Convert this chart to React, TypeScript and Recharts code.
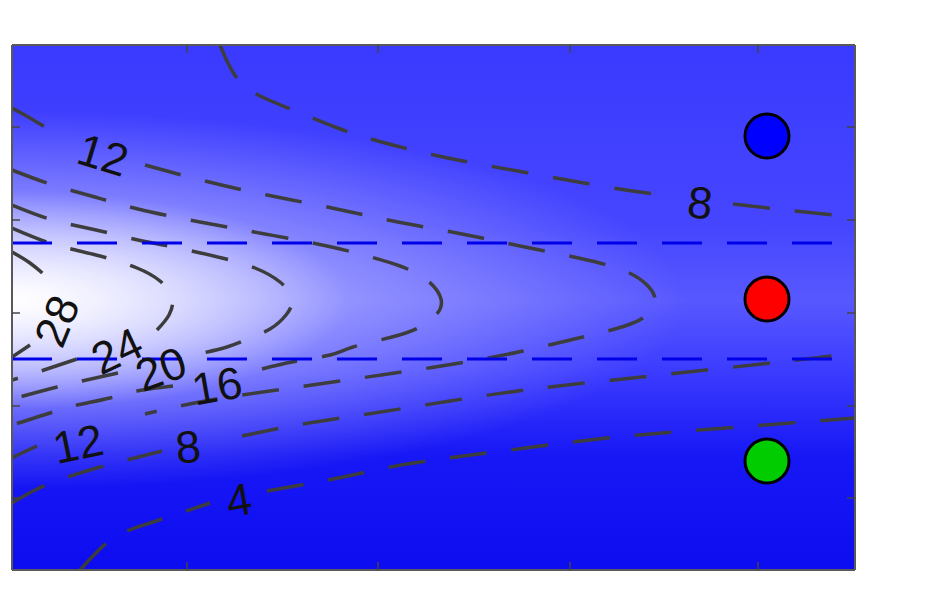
import { ComposedChart, Line, ReferenceArea, ReferenceLine, Scatter, XAxis, YAxis } from "recharts";

// plot coordinates: x to the right, y downwards
const xDomain = [12, 855];
const yDomain = [45, 570];
const xTicks = [187, 378, 570, 758];
const yTicks = [127, 220, 313, 406, 498];

// contour pieces, broken where the level labels sit
const c28a = [[12, 252], [30, 263], [48, 278]];
const c28b = [[30, 345], [12, 357]];
const c24a = [[12, 228], [53, 244], [96, 255], [137, 268], [160, 281], [172, 297], [169, 315], [157, 330]];
const c24b = [[77, 359], [38, 372], [12, 380]];
const c20a = [[12, 205], [53, 220], [96, 230], [138, 240], [178, 248], [222, 258], [255, 268], [280, 282], [292, 299], [286, 315], [270, 329], [248, 339], [227, 347], [203, 353]];
const c20b = [[118, 373], [82, 381], [57, 387], [20, 397], [12, 400]];
const c16a = [[12, 170], [53, 185], [95, 197], [138, 209], [200, 222], [265, 234], [327, 246], [367, 256], [400, 266], [427, 280], [441, 299], [436, 315], [418, 328], [392, 337], [353, 347], [330, 355], [292, 362], [262, 369]];
const c16b = [[173, 386], [137, 391], [110, 398], [73, 406], [50, 413], [12, 425]];
const c12a = [[12, 108], [30, 118], [50, 130]];
const c12b = [[145, 165], [205, 181], [267, 195], [332, 208], [393, 221], [457, 233], [520, 246], [583, 259], [625, 271], [647, 285], [655, 300], [647, 315], [625, 326], [583, 337], [523, 351], [460, 363], [395, 373], [333, 382], [270, 391], [205, 401], [145, 414]];
const c12c = [[37, 446], [22, 453], [12, 458]];
const c8a = [[220, 45], [228, 63], [240, 82], [260, 96], [293, 110], [335, 127], [378, 141], [443, 157], [523, 172], [607, 187], [670, 196]];
const c8b = [[733, 204], [795, 211], [855, 217]];
const c8c = [[12, 503], [37, 489], [62, 479], [100, 467], [162, 451]];
const c8d = [[242, 436], [303, 424], [368, 414], [450, 401], [533, 389], [623, 379], [725, 368], [815, 358], [855, 353]];
const c4a = [[80, 570], [92, 557], [115, 537], [150, 523], [210, 503]];
const c4b = [[267, 491], [343, 477], [407, 464], [495, 452], [598, 439], [688, 431], [790, 423], [855, 418]];

const contours = [c28a, c28b, c24a, c24b, c20a, c20b, c16a, c16b, c12a, c12b, c12c, c8a, c8b, c8c, c8d, c4a, c4b];

const labelText = ["12", "8", "28", "24", "20", "16", "12", "8", "4"];
const labelX = [103, 700, 57, 117, 161, 217, 78, 188, 239];
const labelY = [155, 203, 321, 351, 369, 386, 444, 447, 500];
const labelAngle = [17, 6, -68, -25, -20, -10, -12, -6, -10];

const beamEdges = [243, 359];

const markerX = [767, 767, 767];
const markerY = [136, 299, 461];
const markerColors = ["#0000ff", "#ff0000", "#00cc00"];

const labels = labelText.map((text, i) => ({ x: labelX[i], y: labelY[i], text, angle: labelAngle[i] }));
const markers = markerX.map((x, i) => ({ x, y: markerY[i], color: markerColors[i] }));
const toPts = (arr: number[][]) => arr.map(([x, y]) => ({ x, y }));

const frame = { stroke: "#595959", strokeWidth: 2 };
const tickLn = { stroke: "#444", strokeWidth: 1.5 };
const noText = () => "";

function LevelLabel(props: any) {
  const { cx, cy, payload } = props;
  return (
    <text
      x={cx}
      y={cy}
      transform={`rotate(${payload.angle} ${cx} ${cy})`}
      textAnchor="middle"
      dominantBaseline="central"
      fontSize={45}
      fontFamily="Liberation Sans, Arial, sans-serif"
      fill="#111"
    >
      {payload.text}
    </text>
  );
}

function Marker(props: any) {
  const { cx, cy, payload } = props;
  return <circle cx={cx} cy={cy} r={22} fill={payload.color} stroke="#000" strokeWidth={3} />;
}

export default function App() {
  return (
    <ComposedChart width={917} height={574} margin={{ top: 37, right: 70, bottom: 12, left: 4 }}>
      <defs>
        <linearGradient id="bgBase" x1="0" y1="0" x2="0" y2="1">
          <stop offset="0" stopColor="#3a3aff" />
          <stop offset="0.35" stopColor="#4646ff" />
          <stop offset="0.486" stopColor="#5858ff" />
          <stop offset="0.62" stopColor="#3c3cff" />
          <stop offset="0.78" stopColor="#1818f6" />
          <stop offset="1" stopColor="#0c0cf0" />
        </linearGradient>
        <radialGradient id="glowWide" cx="0" cy="0.486" r="0.8" gradientTransform="translate(0 0.486) scale(1 0.45) translate(0 -0.486)">
          <stop offset="0" stopColor="#fff" stopOpacity={0.75} />
          <stop offset="0.5" stopColor="#fff" stopOpacity={0.35} />
          <stop offset="1" stopColor="#fff" stopOpacity={0} />
        </radialGradient>
        <radialGradient id="glowCore" cx="0" cy="0.486" r="0.4" gradientTransform="translate(0 0.486) scale(1 0.52) translate(0 -0.486)">
          <stop offset="0" stopColor="#fff" stopOpacity={1} />
          <stop offset="0.6" stopColor="#fff" stopOpacity={0.4} />
          <stop offset="1" stopColor="#fff" stopOpacity={0} />
        </radialGradient>
      </defs>
      <XAxis xAxisId="b" dataKey="x" type="number" domain={xDomain} allowDataOverflow ticks={xTicks} interval={0}
        orientation="bottom" mirror tickFormatter={noText} tickSize={8} axisLine={frame} tickLine={tickLn} />
      <XAxis xAxisId="t" dataKey="x" type="number" domain={xDomain} allowDataOverflow ticks={xTicks} interval={0}
        orientation="top" mirror tickFormatter={noText} tickSize={8} axisLine={frame} tickLine={tickLn} />
      <YAxis yAxisId="l" dataKey="y" type="number" domain={yDomain} allowDataOverflow reversed ticks={yTicks} interval={0}
        orientation="left" mirror tickFormatter={noText} tickSize={8} axisLine={frame} tickLine={tickLn} />
      <YAxis yAxisId="r" dataKey="y" type="number" domain={yDomain} allowDataOverflow reversed ticks={yTicks} interval={0}
        orientation="right" mirror tickFormatter={noText} tickSize={8} axisLine={frame} tickLine={tickLn} />

      <ReferenceArea xAxisId="b" yAxisId="l" x1={xDomain[0]} x2={xDomain[1]} y1={yDomain[0]} y2={yDomain[1]} fill="url(#bgBase)" fillOpacity={1} stroke="none" />
      <ReferenceArea xAxisId="b" yAxisId="l" x1={xDomain[0]} x2={xDomain[1]} y1={yDomain[0]} y2={yDomain[1]} fill="url(#glowWide)" fillOpacity={1} stroke="none" />
      <ReferenceArea xAxisId="b" yAxisId="l" x1={xDomain[0]} x2={xDomain[1]} y1={yDomain[0]} y2={yDomain[1]} fill="url(#glowCore)" fillOpacity={1} stroke="none" />

      {contours.map((c, i) => (
        <Line key={i} xAxisId="b" yAxisId="l" data={toPts(c)} dataKey="y" type="natural" stroke="#3d3d3d" strokeWidth={3.5}
          strokeDasharray="37 25" dot={false} activeDot={false} isAnimationActive={false} />
      ))}

      {beamEdges.map((y) => (
        <ReferenceLine key={y} xAxisId="b" yAxisId="l" y={y} stroke="#0000e8" strokeWidth={3.2} strokeDasharray="40 25" />
      ))}

      <Scatter xAxisId="b" yAxisId="l" data={labels} shape={LevelLabel} isAnimationActive={false} />
      <Scatter xAxisId="t" yAxisId="r" data={markers} shape={Marker} isAnimationActive={false} />
    </ComposedChart>
  );
}
